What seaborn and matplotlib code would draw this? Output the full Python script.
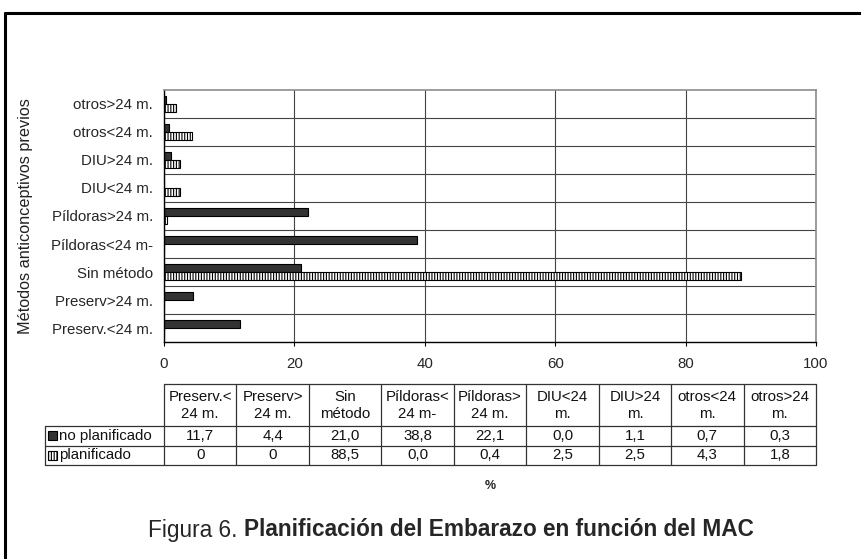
import matplotlib
matplotlib.use("Agg")
import matplotlib.pyplot as plt
import seaborn as sns
import pandas as pd
from matplotlib.patches import Rectangle
from matplotlib.lines import Line2D

# ---------------- data ----------------
categories = ["Preserv.<24 m.", "Preserv>24 m.", "Sin método", "Píldoras<24 m-",
              "Píldoras>24 m.", "DIU<24 m.", "DIU>24 m.", "otros<24 m.", "otros>24 m."]
header_labels = ["Preserv.<\n24 m.", "Preserv>\n24 m.", "Sin\nmétodo", "Píldoras<\n24 m-",
                 "Píldoras>\n24 m.", "DIU<24\nm.", "DIU>24\nm.", "otros<24\nm.", "otros>24\nm."]
series_names = ["no planificado", "planificado"]
no_planificado_txt = ["11,7", "4,4", "21,0", "38,8", "22,1", "0,0", "1,1", "0,7", "0,3"]
planificado_txt = ["0", "0", "88,5", "0,0", "0,4", "2,5", "2,5", "4,3", "1,8"]
x_ticks = [0, 20, 40, 60, 80, 100]
y_label = "Métodos anticonceptivos previos"
x_unit = "%"
title_normal = "Figura 6. "
title_bold = "Planificación del Embarazo en función del MAC"

no_planificado = [float(s.replace(",", ".")) for s in no_planificado_txt]
planificado = [float(s.replace(",", ".")) for s in planificado_txt]

df = pd.DataFrame({
    "metodo": categories * 2,
    "serie": [series_names[0]] * len(categories) + [series_names[1]] * len(categories),
    "valor": no_planificado + planificado,
})

# ---------------- style ----------------
sns.set_theme(style="white")
plt.rcParams["font.family"] = ["Liberation Sans", "DejaVu Sans"]
plt.rcParams["hatch.linewidth"] = 0.8
plt.rcParams["hatch.color"] = "black"

W, H = 862, 559
fig = plt.figure(figsize=(W / 100, H / 100), dpi=100)
fig.patch.set_facecolor("white")


def fx(px):
    return px / W


def fy(py):
    return 1 - py / H


L, R, T, B = 164, 816, 90, 342
ax = fig.add_axes([fx(L), fy(B), (R - L) / W, (B - T) / H])

sns.barplot(data=df, x="valor", y="metodo", hue="serie", order=categories[::-1],
            hue_order=series_names, palette=["#333333", "white"], saturation=1,
            width=0.6, gap=0, edgecolor="black", linewidth=0.8, legend=False,
            orient="h", ax=ax)

for p in ax.containers[1]:
    p.set_facecolor("white")
    p.set_hatch("||||||")

ax.set_xlim(0, 100)
ax.set_ylim(len(categories) - 0.5, -0.5)
ax.set_xticks(x_ticks)
ax.set_xticklabels([str(t) for t in x_ticks], fontsize=10.8)
ax.set_yticks(range(len(categories)))
ax.set_yticklabels(categories[::-1], fontsize=10.8)
ax.set_yticks([i + 0.5 for i in range(len(categories) - 1)], minor=True)
ax.tick_params(axis="x", which="major", length=3, width=0.8, color="black",
               direction="out", pad=8, bottom=True)
ax.tick_params(axis="y", which="both", length=0, pad=8)
ax.grid(False)
ax.grid(True, which="major", axis="x", color="#444444", lw=0.8)
ax.grid(True, which="minor", axis="y", color="#444444", lw=0.8)
ax.set_axisbelow(True)
for s in ["top", "right"]:
    ax.spines[s].set_color("#8c8c8c")
    ax.spines[s].set_linewidth(1.2)
for s in ["left", "bottom"]:
    ax.spines[s].set_color("black")
    ax.spines[s].set_linewidth(1.0)
ax.set_xlabel("")
ax.set_ylabel(y_label, fontsize=11.7, color="#222222")
ax.yaxis.set_label_coords((33 - L) / (R - L), 0.5)

# ---------------- data table ----------------
n = len(categories)
xs = [L + i * (R - L) / n for i in range(n + 1)]
hdr_top, hdr_bot, row_mid, tbl_bot, lab_left = 384, 426, 445.5, 465, 45
lc, lw = "#333333", 0.9
tfs = 10.8


def hline(y, x0, x1):
    fig.add_artist(Line2D([fx(x0), fx(x1)], [fy(y), fy(y)], color=lc, lw=lw))


def vline(x, y0, y1):
    fig.add_artist(Line2D([fx(x), fx(x)], [fy(y0), fy(y1)], color=lc, lw=lw))


hline(hdr_top, L, R)
for y in (hdr_bot, row_mid, tbl_bot):
    hline(y, lab_left, R)
vline(lab_left, hdr_bot, tbl_bot)
for x in xs:
    vline(x, hdr_top, tbl_bot)

for i in range(n):
    cx = (xs[i] + xs[i + 1]) / 2
    fig.text(fx(cx), fy((hdr_top + hdr_bot) / 2 + 0.5), header_labels[i], ha="center",
             va="center", fontsize=tfs, linespacing=1.3, color="#111111")
    fig.text(fx(cx), fy((hdr_bot + row_mid) / 2), no_planificado_txt[i], ha="center",
             va="center", fontsize=tfs, color="#111111")
    fig.text(fx(cx), fy((row_mid + tbl_bot) / 2), planificado_txt[i], ha="center",
             va="center", fontsize=tfs, color="#111111")

row_centers = [(hdr_bot + row_mid) / 2, (row_mid + tbl_bot) / 2]
for k, (name, cy) in enumerate(zip(series_names, row_centers)):
    rect = Rectangle((fx(48), fy(cy + 4.5)), 9 / W, 9 / H, transform=fig.transFigure,
                     facecolor="#333333" if k == 0 else "white", edgecolor="black",
                     lw=0.8, hatch=None if k == 0 else "||||||")
    fig.add_artist(rect)
    fig.text(fx(59), fy(cy), name, ha="left", va="center", fontsize=tfs, color="#111111")

fig.text(fx((L + R) / 2), fy(486), x_unit, ha="center", va="center", fontsize=9,
         fontweight="bold")

# ---------------- title ----------------
tsz = 16.3
t1 = fig.text(fx(148), fy(530), title_normal, ha="left", va="center", fontsize=tsz)
fig.canvas.draw()
bb = t1.get_window_extent(renderer=fig.canvas.get_renderer())
fig.text(bb.x1 / W, fy(530), title_bold, ha="left", va="center", fontsize=tsz,
         fontweight="bold")

# ---------------- frame ----------------
fig.add_artist(Line2D([fx(5), fx(5)], [fy(12.5), 0], color="black", lw=2.2))
fig.add_artist(Line2D([fx(5), 1], [fy(12.5), fy(12.5)], color="black", lw=2.2))

fig.savefig("out.png", dpi=100)
